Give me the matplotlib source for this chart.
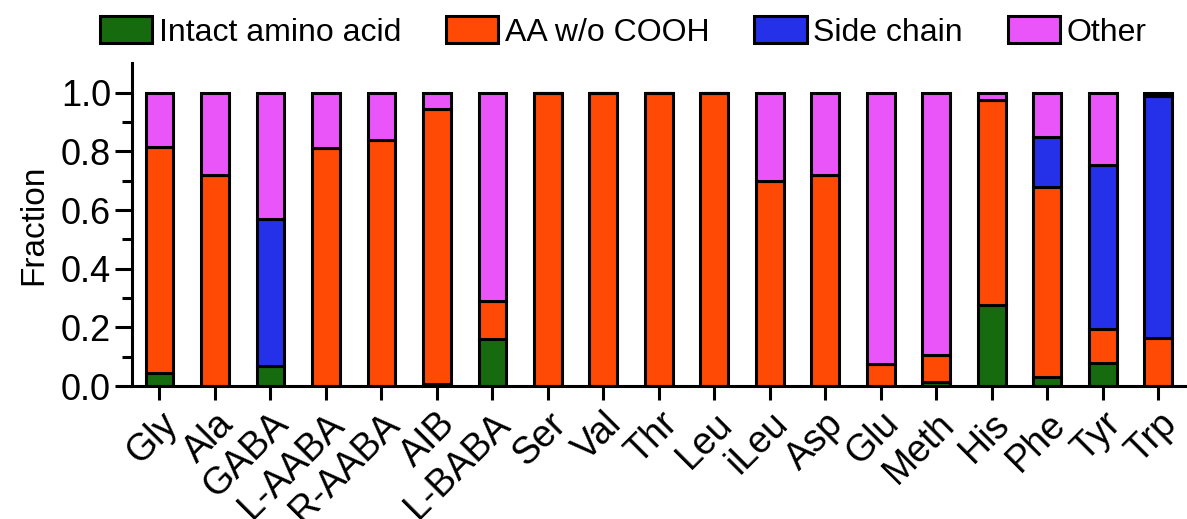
import numpy as np
import matplotlib as mpl
import matplotlib.pyplot as plt

mpl.rcParams['font.family'] = ['Liberation Sans', 'DejaVu Sans']

acids = ['Gly', 'Ala', 'GABA', 'L-AABA', 'R-AABA', 'AIB', 'L-BABA', 'Ser', 'Val', 'Thr',
         'Leu', 'iLeu', 'Asp', 'Glu', 'Meth', 'His', 'Phe', 'Tyr', 'Trp']

# fractions
intact = [0.045, 0.0, 0.07, 0.0, 0.0, 0.008, 0.16, 0.0, 0.0, 0.0,
          0.0, 0.0, 0.0, 0.0, 0.015, 0.275, 0.03, 0.08, 0.0]
no_cooh = [0.77, 0.72, 0.0, 0.81, 0.84, 0.937, 0.13, 1.0, 1.0, 1.0,
           1.0, 0.70, 0.72, 0.075, 0.09, 0.70, 0.65, 0.115, 0.165]
side_chain = [0.0, 0.0, 0.50, 0.0, 0.0, 0.0, 0.0, 0.0, 0.0, 0.0,
              0.0, 0.0, 0.0, 0.0, 0.0, 0.0, 0.17, 0.56, 0.825]
other = [1 - a - b - c for a, b, c in zip(intact, no_cooh, side_chain)]

series = [
    ('Intact amino acid', intact, '#176b0f'),
    ('AA w/o COOH', no_cooh, '#ff4a05'),
    ('Side chain', side_chain, '#2531e8'),
    ('Other', other, '#ea55fa'),
]

fig = plt.figure(figsize=(11.87, 5.19), dpi=100)
ax = fig.add_axes([0.111, 0.256, 0.889, 0.622])

x = np.arange(len(acids))
bottom = np.zeros(len(acids))
for label, vals, color in series:
    vals = np.array(vals)
    ax.bar(x, vals, 0.5, bottom=bottom, color=color, edgecolor='black',
           linewidth=2.2, label=label)
    bottom += vals

ax.set_xlim(-0.5, 18.52)
ax.set_ylim(0, 1.1)
ax.set_yticks([0, 0.2, 0.4, 0.6, 0.8, 1.0])
ax.set_yticks(np.arange(0.1, 1.1, 0.2), minor=True)
ax.yaxis.set_major_formatter(mpl.ticker.FormatStrFormatter('%.1f'))
ax.set_xticks(x, acids, rotation=45, ha='right', rotation_mode='anchor')

for s in ['top', 'right']:
    ax.spines[s].set_visible(False)
for s in ['left', 'bottom']:
    ax.spines[s].set_linewidth(2.2)
ax.tick_params(axis='y', which='major', direction='out', length=12, width=2.2,
               labelsize=26, pad=3)
ax.tick_params(axis='x', which='major', direction='out', length=10, width=2.2,
               labelsize=27, pad=4)
ax.tick_params(axis='y', which='minor', direction='out', length=7, width=2.2)
ax.set_ylabel('Fraction', fontsize=24, labelpad=8)

fig.legend(loc='upper center', bbox_to_anchor=(0.525, 1.025), ncol=4, frameon=False,
           fontsize=23, handlelength=1.65, handleheight=0.95, handletextpad=0.2,
           columnspacing=1.4)

fig.savefig('out.png', dpi=100)
